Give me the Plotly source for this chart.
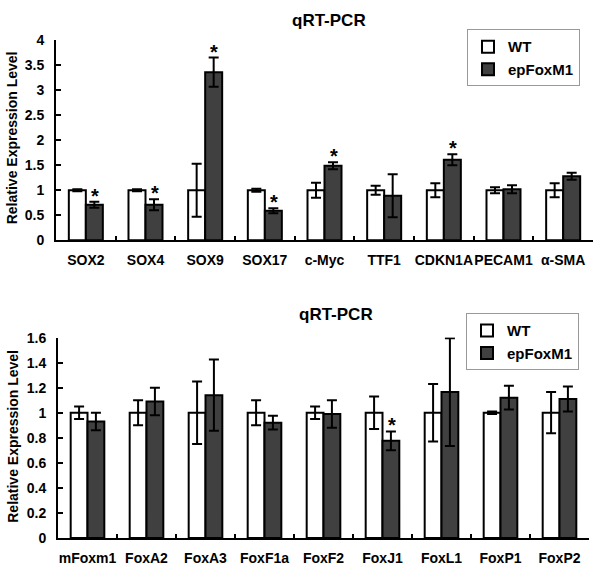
import plotly.graph_objects as go

# ---- data ----
top_cats = ["SOX2", "SOX4", "SOX9", "SOX17", "c-Myc", "TTF1", "CDKN1A", "PECAM1", "α-SMA"]
top_wt = [1.0, 1.0, 1.0, 1.0, 1.0, 1.0, 1.0, 1.0, 1.0]
top_wt_err = [0.02, 0.02, 0.53, 0.03, 0.15, 0.09, 0.14, 0.06, 0.14]
top_ep = [0.71, 0.71, 3.36, 0.59, 1.49, 0.89, 1.61, 1.02, 1.28]
top_ep_err = [0.06, 0.11, 0.29, 0.05, 0.07, 0.43, 0.11, 0.08, 0.07]
top_sig = [True, True, True, True, True, False, True, False, False]

bot_cats = ["mFoxm1", "FoxA2", "FoxA3", "FoxF1a", "FoxF2", "FoxJ1", "FoxL1", "FoxP1", "FoxP2"]
bot_wt = [1.0, 1.0, 1.0, 1.0, 1.0, 1.0, 1.0, 1.0, 1.0]
bot_wt_err = [0.05, 0.10, 0.25, 0.10, 0.05, 0.13, 0.23, 0.01, 0.165]
bot_ep = [0.93, 1.09, 1.14, 0.92, 0.99, 0.775, 1.165, 1.12, 1.11]
bot_ep_err = [0.07, 0.11, 0.285, 0.055, 0.11, 0.075, 0.43, 0.095, 0.10]
bot_sig = [False, False, False, False, False, True, False, False, False]

series_names = ["WT", "epFoxM1"]
series_colors = ["white", "#404040"]
title_text = "qRT-PCR"
ytitle_text = "Relative Expression Level"

FONT = "Liberation Sans, Arial, sans-serif"
W, H = 600, 577

fig = go.Figure()

def add_bars(cats, wt, wt_err, ep, ep_err, xa, ya, leg):
    for name, vals, errs, col in [(series_names[0], wt, wt_err, series_colors[0]),
                                  (series_names[1], ep, ep_err, series_colors[1])]:
        fig.add_trace(go.Bar(
            x=cats, y=vals, name=name, xaxis=xa, yaxis=ya, legend=leg,
            marker=dict(color=col, line=dict(color="black", width=2)),
            error_y=dict(type="data", array=errs, visible=True,
                         color="black", thickness=2, width=5),
            showlegend=True,
        ))

add_bars(top_cats, top_wt, top_wt_err, top_ep, top_ep_err, "x", "y", "legend")
add_bars(bot_cats, bot_wt, bot_wt_err, bot_ep, bot_ep_err, "x2", "y2", "legend2")

annotations = []
for cats, ep, ep_err, sig, xr, yr in [(top_cats, top_ep, top_ep_err, top_sig, "x", "y"),
                                      (bot_cats, bot_ep, bot_ep_err, bot_sig, "x2", "y2")]:
    for c, v, e, s in zip(cats, ep, ep_err, sig):
        if s:
            annotations.append(dict(
                x=c, y=v + e, xref=xr, yref=yr, text="*", showarrow=False,
                xanchor="center", yanchor="bottom", xshift=9, yshift=-7,
                font=dict(family=FONT, size=20, color="black", weight="bold")))

# titles
annotations.append(dict(x=329 / W, y=1 - 13 / H, xref="paper", yref="paper", text=title_text,
                        showarrow=False, xanchor="center", yanchor="middle",
                        font=dict(family=FONT, size=17, color="black", weight="bold")))
annotations.append(dict(x=336 / W, y=1 - 315 / H, xref="paper", yref="paper", text=title_text,
                        showarrow=False, xanchor="center", yanchor="middle",
                        font=dict(family=FONT, size=17, color="black", weight="bold")))
annotations.append(dict(x=12 / W, y=1 - 134 / H, xref="paper", yref="paper", text=ytitle_text,
                        showarrow=False, xanchor="center", yanchor="middle", textangle=-90,
                        font=dict(family=FONT, size=14, color="black", weight="bold")))
annotations.append(dict(x=13 / W, y=1 - 441 / H, xref="paper", yref="paper", text=ytitle_text,
                        showarrow=False, xanchor="center", yanchor="middle", textangle=-90,
                        font=dict(family=FONT, size=14, color="black", weight="bold")))

xtickfont = dict(family=FONT, size=14, color="black", weight="bold")
ytickfont = dict(family=FONT, size=14, color="black", weight="bold")

def xaxis_cfg(domain, anchor):
    return dict(domain=domain, anchor=anchor, showline=True, linecolor="black", linewidth=2,
                ticks="inside", tickson="boundaries", ticklen=4, tickwidth=2, tickcolor="black",
                tickfont=xtickfont, tickangle=0, ticklabelstandoff=6,
                showgrid=False, zeroline=False, fixedrange=True)

def yaxis_cfg(domain, anchor, rng, dtick):
    return dict(domain=domain, anchor=anchor, range=rng, dtick=dtick, showline=True,
                linecolor="black", linewidth=2, ticks="inside", ticklen=5, tickwidth=2,
                tickcolor="black", tickfont=ytickfont, ticklabelstandoff=7,
                showgrid=False, zeroline=False, fixedrange=True)

legend_font = dict(family=FONT, size=15, color="black", weight="bold")

fig.update_layout(
    width=W, height=H,
    margin=dict(l=0, r=0, t=0, b=0),
    paper_bgcolor="white", plot_bgcolor="white",
    barmode="group", bargap=0.43, bargroupgap=0,
    xaxis=xaxis_cfg([56 / W, 593 / W], "y"),
    yaxis=yaxis_cfg([1 - 239 / H, 1 - 33 / H], "x", [0, 4], 0.5),
    xaxis2=xaxis_cfg([58 / W, 589 / W], "y2"),
    yaxis2=yaxis_cfg([1 - 545 / H, 1 - 339 / H], "x2", [0, 1.6], 0.2),
    legend=dict(x=580 / W, y=1 - 22 / H, xanchor="right", yanchor="top",
                bgcolor="white", bordercolor="#999999", borderwidth=1, font=legend_font,
                tracegroupgap=0),
    legend2=dict(x=579 / W, y=1 - 314 / H, xanchor="right", yanchor="top",
                 bgcolor="white", bordercolor="#999999", borderwidth=1, font=legend_font,
                 tracegroupgap=0),
    annotations=annotations,
    showlegend=True,
)

fig.write_html("out.html", post_script="document.body.style.margin='0';",
               config={"displayModeBar": False})
